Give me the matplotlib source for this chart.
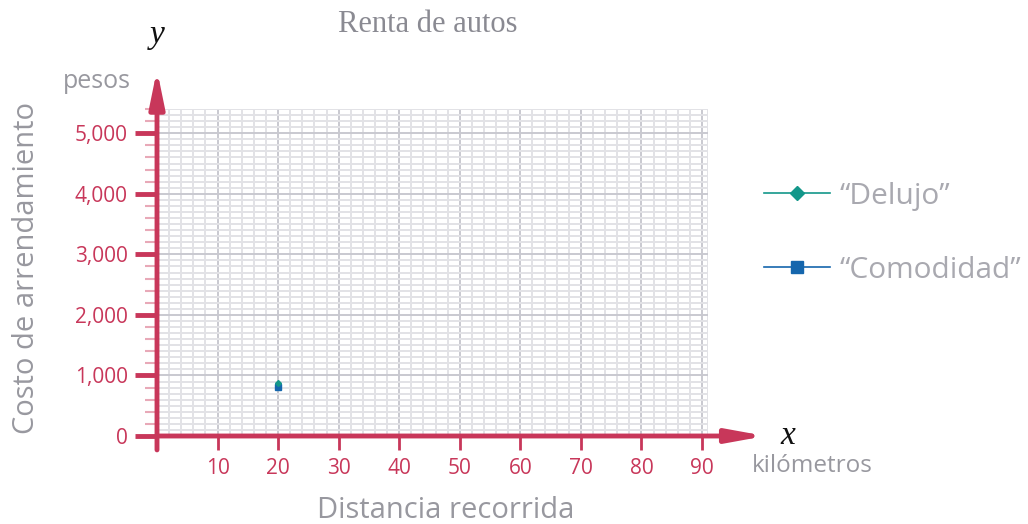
import matplotlib.pyplot as plt
import numpy as np

# km recorridos y costo en pesos
distancia = [20]
costo_delujo = [870]
costo_comodidad = [810]

x_ticks = [10, 20, 30, 40, 50, 60, 70, 80, 90]
y_ticks = [0, 1000, 2000, 3000, 4000, 5000]
y_labels = ["0", "1,000", "2,000", "3,000", "4,000", "5,000"]

rojo = "#c8375a"
rosa = "#e8a9b8"
gris = "#98989f"
gris_claro = "#a9a9b0"
verde = "#13978a"
azul = "#1566ad"

plt.rcParams['font.family'] = ['Open Sans', 'DejaVu Sans']

fig = plt.figure(figsize=(10.28, 5.24), dpi=100)
ax = fig.add_axes([157 / 1028, 88 / 524, 551 / 1028, 327 / 524])
ax.set_xlim(0, 91)
ax.set_ylim(0, 5400)

# cuadricula fina y gruesa
for gx in np.arange(2, 91, 2):
    c = "#c9c9d0" if gx % 10 == 0 else "#e2e2e6"
    ax.axvline(gx, color=c, lw=1.4, zorder=0)
ax.axvline(91, color="#e2e2e6", lw=1.4, zorder=0)
for gy in np.arange(100, 5401, 100):
    c = "#c9c9d0" if gy % 1000 == 0 else "#e2e2e6"
    ax.axhline(gy, color=c, lw=1.4, zorder=0)

for s in ax.spines.values():
    s.set_visible(False)

# ejes con flecha
ax.annotate("", xy=(0, 6050), xytext=(0, -230), annotation_clip=False,
            arrowprops=dict(arrowstyle="-|>,head_length=2.2,head_width=0.45",
                            color=rojo, lw=3.5, shrinkA=0, shrinkB=0))
ax.annotate("", xy=(100.5, 0), xytext=(0, 0), annotation_clip=False,
            arrowprops=dict(arrowstyle="-|>,head_length=2.2,head_width=0.4",
                            color=rojo, lw=3.5, shrinkA=0, shrinkB=0))

ax.set_xticks(x_ticks)
ax.set_xticklabels([str(t) for t in x_ticks])
ax.tick_params(axis="x", length=10, width=2, color=rojo, labelcolor=rojo,
               labelsize=15, pad=6)
ax.set_yticks(y_ticks)
ax.set_yticklabels(y_labels)
ax.set_yticks(np.arange(200, 5401, 200), minor=True)
ax.tick_params(axis="y", which="major", length=16, width=3.5, color=rojo,
               labelcolor=rojo, labelsize=15, pad=5)
ax.tick_params(axis="y", which="minor", length=9, width=1.5, color=rosa)
ax.tick_params(axis="x", which="minor", length=0)

l1, = ax.plot(distancia, costo_delujo, color=verde, marker="D", ms=3,
              lw=1.2, label="\u201cDelujo\u201d", zorder=4)
l2, = ax.plot(distancia, costo_comodidad, color=azul, marker="s", ms=4,
              lw=1.2, label="\u201cComodidad\u201d", zorder=3)

fig.legend(handles=[l1, l2], loc="upper left",
           bbox_to_anchor=(737 / 1028, 1 - 155 / 524), frameon=False,
           fontsize=21.5, labelcolor=gris_claro, markerscale=2.3,
           handlelength=2.2, handletextpad=0.35, labelspacing=1.5)

# textos
fig.text(428 / 1028, 1 - 25 / 524, "Renta de autos", family="Liberation Serif",
         color="#8a8a92", fontsize=22, ha="center", va="center")
fig.text(157 / 1028, 1 - 35 / 524, "y", family="Liberation Serif", style="italic",
         color="#111111", fontsize=24, ha="center", va="center")
fig.text(788 / 1028, 1 - 436 / 524, "x", family="Liberation Serif", style="italic",
         color="#111111", fontsize=24, ha="center", va="center")
fig.text(97 / 1028, 1 - 82 / 524, "pesos", color=gris, fontsize=18,
         ha="center", va="center")
fig.text(812 / 1028, 1 - 466 / 524, "kilómetros", color=gris, fontsize=17.5,
         ha="center", va="center")
fig.text(27 / 1028, 1 - 268 / 524, "Costo de arrendamiento", color=gris,
         fontsize=21, rotation=90, ha="center", va="center")
fig.text(446 / 1028, 1 - 510 / 524, "Distancia recorrida", color=gris,
         fontsize=21, ha="center", va="center")

fig.savefig("out.png", dpi=100)
